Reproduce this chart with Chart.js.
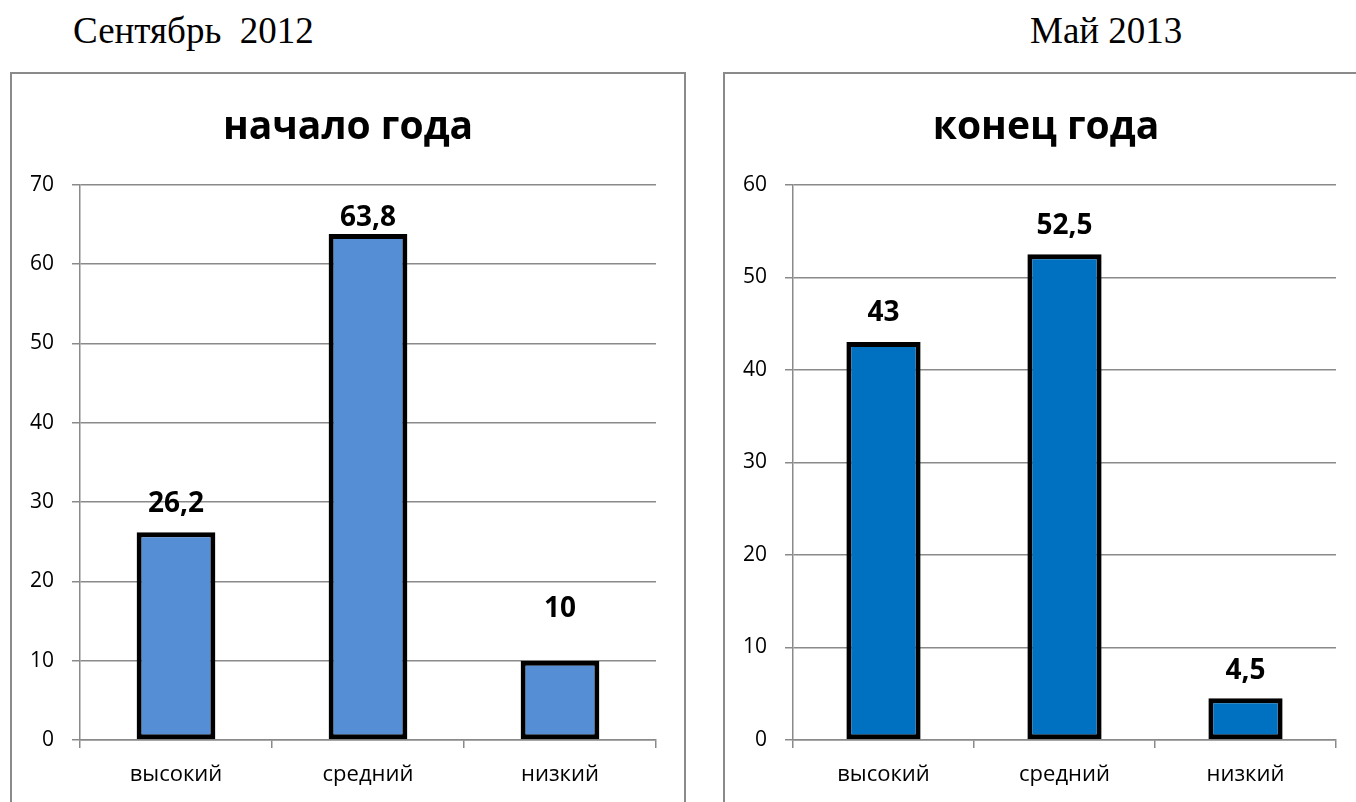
<!DOCTYPE html>
<html>
<head>
<meta charset="utf-8">
<script src="https://cdn.jsdelivr.net/npm/chart.js@4"></script>
<style>
  body { margin: 0; background: #fff; width: 1356px; height: 802px; overflow: hidden; position: relative; }
  .cap { position: absolute; top: 9px; font: 37px "Liberation Serif", "Times New Roman", serif; color: #000; white-space: pre; }
  .box { position: absolute; top: 72px; height: 800px; border: 2px solid #8a8a8a; background: #fff; }
  canvas { position: absolute; }
</style>
</head>
<body>
<div class="cap" style="left:73px">Сентябрь  2012</div>
<div class="cap" style="left:1030px">Май 2013</div>
<div class="box" style="left:10px; width:672px"></div>
<div class="box" style="left:723px; width:700px"></div>
<canvas id="startChart" width="672" height="728" style="left:12px; top:74px"></canvas>
<canvas id="endChart" width="640" height="728" style="left:726px; top:74px"></canvas>
<script>
const categories = ['высокий', 'средний', 'низкий']
const startValues = [26.2, 63.8, 10]
const endValues = [43, 52.5, 4.5]

// подписи значений над столбиками
const valueLabels = {
  id: 'valueLabels',
  afterDatasetsDraw(chart, args, opts) {
    const ctx = chart.ctx
    const meta = chart.getDatasetMeta(0)
    ctx.save()
    ctx.font = 'bold 28px "Open Sans"'
    ctx.fillStyle = '#000'
    ctx.textAlign = 'center'
    ctx.textBaseline = 'middle'
    meta.data.forEach((bar, i) => {
      const v = chart.data.datasets[0].data[i]
      ctx.fillText(String(v).replace('.', ','), bar.x, bar.y - opts.offsets[i])
    })
    ctx.restore()
  }
}

function makeChart(id, title, values, color, max, yWidth, rightGap, offsets) {
  const grid = '#8a8a8a'
  return new Chart(document.getElementById(id), {
    type: 'bar',
    data: {
      labels: categories,
      datasets: [{
        data: values,
        backgroundColor: color,
        borderColor: '#000',
        borderWidth: 5,
        borderSkipped: false,
        categoryPercentage: 1,
        barPercentage: 0.41
      }]
    },
    options: {
      responsive: false,
      animation: false,
      layout: { padding: { top: 0, right: 0, bottom: 14, left: 0 } },
      scales: {
        x: {
          afterFit: (scale) => { scale.height = 48 },
          grid: { drawOnChartArea: false, drawTicks: true, tickLength: 8, color: grid, lineWidth: 1.5 },
          border: { color: grid, width: 1.5 },
          ticks: { color: '#000', padding: 14, font: { family: 'Open Sans', size: 22 } }
        },
        y: {
          min: 0,
          max: max,
          afterFit: (scale) => { scale.width = yWidth },
          grid: { color: grid, lineWidth: 1.5, tickLength: 8 },
          border: { color: grid, width: 1.5 },
          ticks: { stepSize: 10, color: '#000', padding: 18, font: { family: 'Open Sans', size: 21 } }
        },
        // пустая ось справа, только чтобы оставить поле
        gap: {
          type: 'linear',
          position: 'right',
          afterFit: (scale) => { scale.width = rightGap },
          grid: { drawOnChartArea: false, drawTicks: false },
          border: { display: false },
          ticks: { display: false }
        }
      },
      plugins: {
        legend: { display: false },
        tooltip: { enabled: false },
        title: {
          display: true,
          text: title,
          color: '#000',
          font: { family: 'Open Sans', size: 39, weight: 'bold' },
          padding: { top: 30, bottom: 34 }
        },
        valueLabels: { offsets: offsets }
      }
    },
    plugins: [valueLabels]
  })
}

makeChart('startChart', 'начало года', startValues, '#558ED5', 70, 68, 28, [28, 16, 52])
makeChart('endChart', 'конец года', endValues, '#0070C0', 60, 67, 30, [29, 28, 27])
</script>
</body>
</html>
